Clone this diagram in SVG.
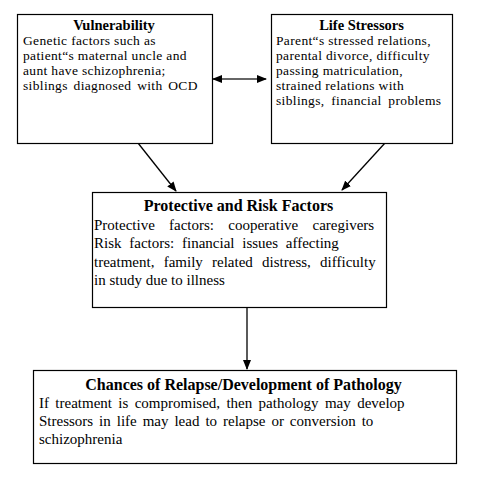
<svg xmlns="http://www.w3.org/2000/svg" width="477" height="478" viewBox="0 0 477 478">
<style>
.box{fill:#fff;stroke:#000;stroke-width:1.2}
text{font-family:"Liberation Serif","Times New Roman",serif;fill:#000}
.s{font-size:13.5px;letter-spacing:0.35px}
.m{font-size:15px}
.t{font-size:16px;font-weight:bold}
.ts{font-size:14.5px;font-weight:bold}
.c{stroke:#000;stroke-width:1.3;fill:none}
.h{stroke:#333;stroke-width:1.5;fill:none}
</style>
<defs>
<marker id="ah" markerWidth="10" markerHeight="8" refX="9" refY="4" orient="auto" markerUnits="userSpaceOnUse">
<path d="M0,0 L10,4 L0,8 z" fill="#000"/>
</marker>
<marker id="as" markerWidth="10" markerHeight="8" refX="1" refY="4" orient="auto" markerUnits="userSpaceOnUse">
<path d="M10,0 L0,4 L10,8 z" fill="#000"/>
</marker>
</defs>
<rect width="477" height="478" fill="#fff"/>
<g id="connectors">
<line class="h" x1="213" y1="79" x2="266" y2="79" marker-start="url(#as)" marker-end="url(#ah)"/>
<line class="c" x1="138" y1="143" x2="176" y2="191" marker-end="url(#ah)"/>
<line class="c" x1="385" y1="143" x2="342" y2="190" marker-end="url(#ah)"/>
<line class="c" x1="247" y1="307" x2="247" y2="369" marker-end="url(#ah)"/>
</g>
<g id="vulnerability">
<rect class="box" x="17.5" y="14.5" width="195" height="129"/>
<text class="ts" x="114" y="29.5" text-anchor="middle">Vulnerability</text>
<text class="s" x="23" y="45">Genetic factors such as</text>
<text class="s" x="23" y="59.9">patient“s maternal uncle and</text>
<text class="s" x="23" y="74.8">aunt have schizophrenia;</text>
<text class="s" x="23" y="89.7" word-spacing="2">siblings diagnosed with OCD</text>
</g>
<g id="life-stressors">
<rect class="box" x="271.5" y="14.5" width="181" height="129"/>
<text class="ts" x="361.5" y="29.5" text-anchor="middle">Life Stressors</text>
<text class="s" x="276" y="45">Parent“s stressed relations,</text>
<text class="s" x="276" y="59.9">parental divorce, difficulty</text>
<text class="s" x="276" y="74.8">passing matriculation,</text>
<text class="s" x="276" y="89.7">strained relations with</text>
<text class="s" x="276" y="104.6" word-spacing="3">siblings, financial problems</text>
</g>
<g id="protective-risk">
<rect class="box" x="92.5" y="192.5" width="294" height="115"/>
<text class="t" x="238.5" y="211" text-anchor="middle">Protective and Risk Factors</text>
<text class="m" x="94" y="229.5" word-spacing="10.5">Protective factors: cooperative caregivers</text>
<text class="m" x="94" y="248" word-spacing="4">Risk factors: financial issues affecting</text>
<text class="m" x="94" y="266.5" word-spacing="5.5">treatment, family related distress, difficulty</text>
<text class="m" x="94" y="285">in study due to illness</text>
</g>
<g id="relapse">
<rect class="box" x="33.5" y="370.5" width="423" height="93"/>
<text class="t" x="243.5" y="389.5" text-anchor="middle">Chances of Relapse/Development of Pathology</text>
<text class="m" x="39" y="407.5" word-spacing="2.6">If treatment is compromised, then pathology may develop</text>
<text class="m" x="39" y="425.5" word-spacing="2.2">Stressors in life may lead to relapse or conversion to</text>
<text class="m" x="39" y="443.5">schizophrenia</text>
</g>
</svg>
